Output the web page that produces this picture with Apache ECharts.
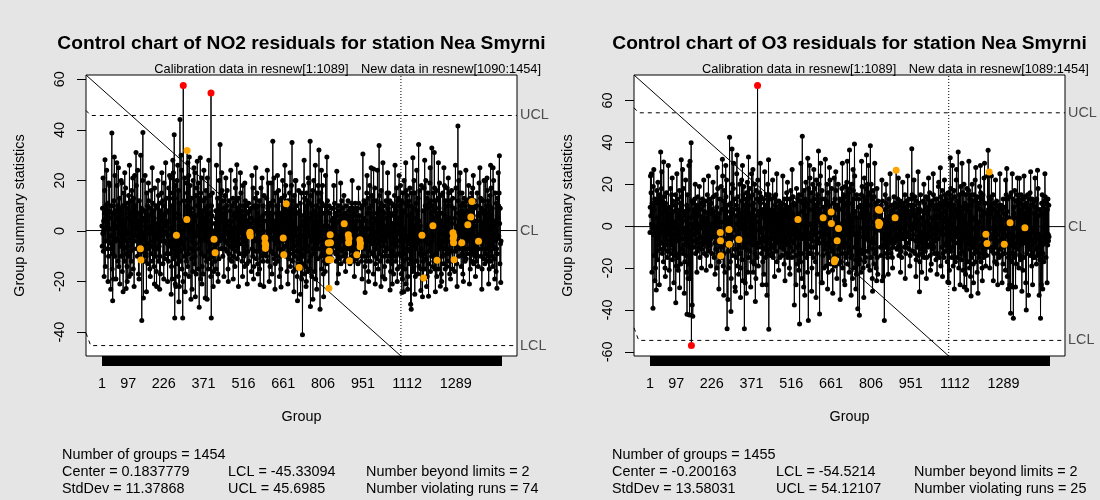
<!DOCTYPE html>
<html><head><meta charset="utf-8">
<script src="https://cdn.jsdelivr.net/npm/echarts@6/dist/echarts.min.js"></script>
<style>html,body{margin:0;padding:0;background:#e5e5e5}#c{width:1100px;height:500px}</style>
</head><body><div id="c"></div><script>
// ---------- data ----------
const xTickLabels = [1,97,226,371,516,661,806,951,1112,1289];
const yTicksNO2 = [-40,-20,0,20,40,60];
const yTicksO3 = [-60,-40,-20,0,20,40,60];

const no2Groups = 1454, no2Center = 0.1837779, no2Lcl = -45.33094, no2Ucl = 45.6985, no2StdDev = 11.37868, no2Beyond = 2, no2Violating = 74;
const o3Groups = 1455, o3Center = -0.200163, o3Lcl = -54.5214, o3Ucl = 54.12107, o3StdDev = 13.58031, o3Beyond = 2, o3Violating = 25;
const calibrationEnd = 1089.5;

const no2Bulk = [
2,-6,9,-1,13,-8,4,0,-11,7,16,-3,-14,5,10,-4,1,-17,8,3,-7,11,-1,6,-10,19,-4,1,-12,8,5,-2,14,-7,-5,10,0,-15,7,20,
-9,3,-19,12,-1,6,-10,15,2,-4,8,-13,1,5,-7,18,-3,10,-12,2,7,-14,4,-1,13,-8,-4,9,-6,2,20,-10,0,7,-16,4,10,-5,-2,15,
-7,4,-12,8,1,-4,17,-9,6,-1,11,-14,3,-6,9,-1,-10,14,5,-18,2,7,-4,12,-8,0,7,-12,16,-3,4,-7,10,-2,-15,13,1,-5,8,22,
-4,10,-2,6,-13,18,1,-7,3,-10,13,-4,7,-17,4,-1,12,-7,2,-11,15,-5,7,-2,9,-14,4,-8,20,0,-6,11,-3,5,-12,8,-1,14,-9,2,
7,-10,3,15,-5,-1,10,-13,4,-2,12,-7,1,6,-15,9,-4,2,-9,16,-1,7,-6,4,-12,11,0,-4,8,-14,5,-2,17,-7,1,-10,10,-1,-16,13,
3,-7,9,-3,5,-12,14,-2,-6,11,2,-10,7,-17,8,1,-4,15,-8,4,-2,12,-13,6,0,-7,19,-4,10,-11,2,7,-15,4,-1,13,-9,3,-5,10,
-2,8,-12,17,-6,4,-16,13,1,-9,21,-4,7,-14,10,-1,-19,15,4,-7,23,-11,2,-3,13,-15,7,-21,18,1,-7,12,-10,20,-2,-13,9,5,-18,16,
-4,11,-22,6,18,-8,3,-12,14,-5,24,-15,4,-2,10,-20,16,0,-7,12,-10,21,-3,7,-17,10,2,-12,19,-6,-1,15,-14,8,4,-9,22,-18,5,12,
-7,18,-2,9,-20,13,1,-11,15,-4,7,-16,20,-1,-8,11,-13,4,23,-10,3,-5,14,-17,6,-2,17,-12,10,0,-15,19,-7,2,-22,13,7,-4,10,-19,
15,-9,4,21,-6,-14,8,1,-17,12,-3,18,-10,5,-1,13,-20,9,-4,16,2,-12,7,-7,21,-2,10,-15,4,18,-8,1,-11,14,-5,7,-18,20,-2,10,
-13,6,15,-4,-10,12,0,-16,19,-7,3,-12,14,-2,8,-15,5,17,-9,1,-5,13,-17,7,-1,10,-11,20,-4,4,-14,9,-2,15,-7,4,-10,16,-3,7,
-10,12,-2,5,-13,9,1,-7,14,-4,7,-12,3,-1,10,-8,16,-5,2,-15,7,0,-9,12,-3,4,-11,8,-2,15,-6,4,-12,10,-4,1,-7,13,-2,6,
-10,11,-4,7,-14,3,17,-6,1,-8,12,-2,5,-11,9,-4,2,-15,13,-1,7,-9,4,10,-12,0,15,-5,8,-3,-12,6,-7,18,-2,4,-10,10,-1,-14,
7,-4,12,-9,2,-6,10,-1,-13,15,4,-8,7,-2,11,-12,1,8,-5,14,-10,3,-2,9,-16,5,12,-7,1,-10,17,-4,6,-14,10,-3,4,-8,13,0,
-7,9,-11,3,15,-4,7,-13,2,10,-8,5,-2,12,-15,4,8,-6,-1,17,-10,2,-4,11,-7,6,-12,10,0,-5,14,-9,4,-1,7,-15,12,-3,7,-10,
13,-2,5,-12,9,-7,19,-4,1,-10,11,-1,-14,7,4,-8,15,-3,6,-17,10,0,-6,12,-9,3,21,-11,4,-2,8,-13,2,15,-5,7,-10,10,-4,1,
-12,10,-3,16,-7,4,-1,12,-10,2,7,-15,9,-4,13,-2,4,-9,20,-7,1,10,-12,5,-2,14,-8,3,-6,18,-10,7,-4,11,-16,2,8,-5,12,-1,
-11,7,-3,15,-9,4,-14,10,-2,6,18,-7,2,-12,9,-4,12,-16,4,-1,14,-10,7,-6,20,-2,5,-15,10,-8,1,-18,12,-4,7,-11,16,-5,3,-13,
8,-4,11,-16,2,-9,15,-19,6,-2,10,-13,4,-7,18,-10,1,-17,13,-4,7,-14,10,-1,-20,15,3,-8,12,-6,-16,9,-2,19,-12,5,-15,11,-7,2,
-10,14,-4,7,-18,10,-2,16,-13,4,-7,20,-9,2,-16,8,-3,13,-19,6,-1,10,-13,15,-5,4,-11,18,-7,1,-16,12,-4,7,-14,9,-2,15,-10,3,
-15,11,-6,18,-9,2,-17,13,-4,7,-12,10,-1,-16,15,-7,4,-13,8,-3,-10,12,-5,2,-14,6,-8,10,-2,-12,7,-4,14,-10,1,-7,9,-11,4,-2,
-8,5,-3,9,-10,1,-6,11,-4,-1,7,-9,3,-12,6,-2,8,-7,-4,10,-10,1,-5,8,-11,4,-2,10,-7,2,-13,6,-3,12,-8,0,-4,9,-10,3,
-7,14,-2,5,-12,7,-4,1,-9,10,-5,3,-11,6,-1,-7,12,-4,2,-10,8,-3,4,-13,9,-6,-2,6,-8,11,-4,2,-10,6,-7,9,-2,-12,7,-4,
3,-9,11,-2,-6,8,-11,4,-3,9,-7,1,-13,6,-4,11,-2,-10,6,-1,14,-8,4,-5,9,-12,2,-7,10,-4,16,-10,5,-2,12,-7,1,-14,8,-3,
11,-6,4,-12,15,-2,7,-10,1,13,-16,6,-4,9,-8,18,-2,-12,7,3,-14,10,-5,14,-9,2,-1,12,-17,8,-4,5,-10,17,-3,9,-13,4,-7,12,
-1,7,-11,20,-5,3,-15,9,-1,6,-9,14,-4,2,-12,11,-7,16,-2,4,-10,8,-18,13,0,-6,10,-3,7,-14,17,-8,2,-4,12,-10,5,-1,15,-7,
4,-12,9,-2,15,-7,1,-10,12,-4,7,-16,6,-1,11,-13,3,19,-8,1,-5,10,-17,7,-3,14,-10,4,-2,10,-12,8,-6,17,-4,2,-15,12,-9,5,
-1,13,-7,3,-14,10,-4,18,-10,2,-17,12,-2,7,-19,15,-6,8,-12,4,20,-9,1,-15,11,-4,7,-21,16,-2,-11,14,-7,2,-18,10,-5,12,-3,6,
-13,17,-8,4,-20,10,-2,15,-12,7,-1,-16,12,-6,9,-15,20,-4,2,-10,15,-18,5,-7,11,-3,22,-12,8,-5,-17,13,-2,10,-14,4,-9,16,-4,2,
-15,12,-7,18,-10,3,-19,14,-2,8,-12,6,-1,17,-9,4,-15,10,-4,20,-11,2,-7,13,-18,9,-5,15,-2,7,-13,11,-8,2,19,-6,-16,12,-3,7,
-10,20,-4,10,-14,4,-2,15,-12,8,-7,17,-15,5,-3,12,-9,1,16,-18,10,-5,7,-11,13,-2,-15,9,-7,19,-4,3,-12,14,-6,4,-17,11,-1,7,
-10,15,-4,2,-13,9,-7,18,-2,6,-15,12,-3,10,-9,4,-14,17,-7,1,-12,8,-4,15,-9,5,-17,12,-1,7,-12,10,-5,16,-8,3,-15,13,-2,7,
-11,14,-4,9,-16,5,-1,12,-8,17,-6,2,-13,10,-4,7,-15,12,-2,20,-10,4,-7,15,-12,6,-2,10,-14,8,-5,15,-9,4,-17,11,-3,7,-10,13,
-7,3,-12,10,-2,16,-11,6,-4,12,-9,1,-14,8,-3,18,-7,4,-10,13,-1,-15,10,-5,7,-12,15,-4,2,-9,17,-7,5,-13,9,-2,12,-10,4,-6,
14,-8,2,-12,10,-4,15,-10,6,-2,-14,11,-7,19,-3,7,-12,4,-1,13,-10,9,-5,17,-15,3,-7,12,-2,7,-11,15,-4,8,-13,2,20,-9,5,-4,
10,-12,1,16,-7,4,-10,12,-3,7,-15,10,-5,14,-8,2,-12,17,-4,6,-10,9,-1,-14,12,-6,20,-2,4,-11,8,-7,15,-4,2,-16,11,-7,7,-9,
13,-3,5,-12,10,-2,15,-8,3,-13,9,-5,12,-4
];
const no2Excursions = [[5,21],[9,-18],[18,24],[23,-20],[29,18],[33,-23],[48,22],[52,-19],[61,25],[66,-21],[73,19],[78,-24],[84,23],[93,-20],
[101,26],[106,-17],[113,21],[118,-22],[131,24],[136,-19],[158,22],[163,-24],[170,19],[177,-18],[184,25],[192,-21],[205,20],[211,-23],[219,23],
[226,-19],[233,27],[240,-20],[247,22],[253,-25],[259,28],[270,-22],[277,26],[281,-28],[289,30],[304,-24],[314,27],[329,-23],[336,25],[341,-26],
[359,29],[365,-21],[372,24],[384,-27],[390,28],[406,-22],[418,26],[424,-20],[437,23],[445,-18],[452,21],[461,-20],[470,24],[479,-19],[486,20],
[498,-22],[505,23],[513,-18],[521,19],[530,-21],[547,22],[553,-19],[561,25],[569,-17],[584,21],[590,-22],[603,24],[610,-20],[617,19],[631,-23],
[640,22],[647,-18],[667,26],[678,-21],[686,23],[700,-24],[707,20],[724,-25],[737,28],[744,-22],[752,21],[778,26],[783,-23],[800,24],[808,-26],
[815,22],[845,18],[862,-17],[870,19],[888,-16],[912,20],[920,-18],[935,17],[948,-19],[966,22],[972,-20],[981,25],[996,-21],[1004,24],[1017,-22],
[1024,27],[1031,-19],[1041,23],[1058,-21],[1068,26],[1076,-20],[1083,22],[1100,-24],[1107,27],[1114,-23],[1133,29],[1140,-25],[1147,24],[1168,-26],
[1176,28],[1183,-22],[1196,25],[1215,-24],[1226,27],[1238,-20],[1246,25],[1253,-23],[1262,21],[1270,-19],[1288,26],[1294,-22],[1305,23],[1317,-20],
[1326,24],[1339,-21],[1353,22],[1361,-18],[1377,25],[1384,-23],[1392,20],[1409,-21],[1416,26],[1431,-19],[1444,23]];
const no2Peaks = [[12,28.2],[37,38.8],[40,-27.6],[46,29.3],[55,27],[89,-22.7],[125,31.1],[142,30],[146,-35.4],[150,39],[152,-26.5],[200,-22],
[264,38.1],[266,-34.4],[285,44.1],[295,-34.4],[297,57.6],[319,29.3],[325,-27],[348,27.6],[355,-30.2],[377,-26.5],[398,54.6],[399,-34.4],
[431,34.2],[492,26.2],[577,-21.3],[623,35.5],[653,-22.2],[693,35],[713,-27.6],[731,-41],[759,35.5],[760,-29.9],[769,-27],[791,32],[795,-31],[820,29.3],
[856,23.6],[857,-20.6],[951,30.5],[959,-24.3],[990,24.5],[1010,33.8],[1050,-23.3],[1093,-24.3],[1125,-29],[1127,-31],[1154,34.2],[1162,-23.5],
[1190,-25.8],[1202,32.8],[1211,31.1],[1233,-21.9],[1297,41.5],[1403,21],[1425,25],[1439,-22.6],[1448,29.8],[1453,-20.4]];
const no2Runs = [[141,-7],[143,-11.5],[272,-1.7],[310,4.6],[311,31.8],[409,-3.3],[413,-8.6],[539,-1.1],[540,-0.5],[541,-2],[594,-2.8],[595,-4.8],
[596,-6.8],[597,-5.5],[661,-2.8],[663,-9.4],[672,10.8],[719,-14.4],[825,-4.7],[826,-11.4],[827,-22.6],[829,-8],[832,-1.5],[833,-4.6],[834,-11.4],
[883,2.9],[898,-1.5],[899,-4.6],[900,-3],[902,-11.8],[929,-9.4],[940,-3.5],[941,-6.2],[942,-4.8],[1166,-1.7],[1172,-18.6],[1206,2.1],[1221,-11.6],
[1279,-0.7],[1280,-3],[1281,-4.6],[1282,-2],[1283,-11.4],[1311,-4.6],[1333,2.5],[1344,5.5],[1348,11.7],[1372,-4.1]];

const o3Bulk = [
-3,9,-13,5,16,-6,1,-18,11,-1,7,-10,19,-4,3,-14,8,13,-9,0,-20,11,-2,6,-12,17,-6,4,-16,9,-1,13,-9,4,-18,15,-4,6,-11,2,
10,-8,18,-5,1,-13,12,-2,7,-17,6,14,-11,-1,9,-20,4,11,-6,-3,16,-9,5,-15,8,1,-12,13,-4,9,-21,6,-1,11,-7,18,-13,3,-5,15,
-9,4,-16,12,-1,7,-11,20,-6,2,-14,10,-4,15,-10,1,-19,8,6,-7,13,-2,-15,11,-4,6,-13,17,-8,4,-1,11,-18,8,-5,14,-11,2,-6,9,
-13,5,18,-3,-9,13,-1,-17,7,-6,11,-14,3,-22,10,-4,15,-8,1,-12,8,-18,6,-2,13,-10,20,-6,-25,4,-15,8,-4,12,-8,1,-16,11,-1,6,
-10,8,-4,13,-7,2,-13,6,-1,10,-8,4,-12,7,-3,14,-6,1,-10,9,-2,5,-15,8,-5,11,-1,-8,6,-11,3,13,-6,1,-9,10,-4,4,-13,7,
-3,12,-8,2,-6,9,-14,4,-1,15,-10,6,-4,8,-12,1,10,-7,-2,13,-9,4,-6,11,-1,-13,6,8,-5,1,-10,14,-4,7,-15,5,-8,10,-1,3,
-11,15,-5,9,-20,6,-2,18,-13,4,-8,21,-17,6,-1,13,-23,10,-4,19,-10,2,-15,8,-7,24,-3,-19,12,5,-13,17,-6,-22,8,1,-18,14,-9,22,
-6,-27,10,-1,15,-12,4,-20,13,-8,23,-4,7,-17,11,-1,-25,16,-9,3,20,-14,6,-5,18,-21,8,-2,13,-11,-29,18,-6,5,-15,10,25,-8,1,-19,
14,-4,8,-23,17,-10,2,20,-13,6,-7,-20,12,-1,22,-16,4,9,-26,15,-6,-10,19,1,-14,10,-8,-27,13,-4,7,-18,16,-11,3,21,-8,-22,13,-2,
-15,10,-5,18,-12,6,-1,-20,14,-7,25,-17,4,-9,15,-3,-22,11,-6,8,-18,20,-1,-13,9,5,-25,17,-8,2,-15,13,-4,22,-10,-19,7,-2,12,-8,
16,-6,-21,11,-3,14,-13,6,-10,19,-1,-17,8,-7,13,-23,4,-1,18,-11,6,-15,10,-5,-28,15,-4,8,-13,20,-8,2,-18,11,-6,15,-2,-11,7,-14,
5,-9,13,-3,-13,8,-6,11,-1,-15,7,4,-10,14,-5,-1,10,-8,15,-12,2,-6,13,-17,6,-2,9,-8,4,-13,12,-4,-7,8,-15,10,1,-10,6,-4,
11,-14,3,-8,15,-5,8,-11,1,-18,13,-2,6,-9,10,-6,-13,5,16,-8,-1,12,-15,7,-4,9,-13,4,-20,13,-6,2,-10,17,-7,-1,10,-15,8,-4,
6,-12,14,-3,-8,11,-16,4,-6,10,-1,-14,8,-10,18,-5,2,-18,13,-8,6,-2,-21,15,-9,4,-13,12,-4,-17,20,-6,1,-25,15,-10,7,-4,11,-13,
-29,17,-6,9,-19,13,-1,-11,21,-8,5,-15,11,-3,-22,14,-9,6,18,-13,-4,8,-17,23,-6,1,-13,16,-10,4,-20,12,-7,20,-2,-15,8,-25,13,-4,
18,-10,6,-17,10,-1,22,-13,4,-8,-23,15,-6,11,-18,2,20,-8,-12,8,-3,24,-15,6,-27,13,-5,17,-10,1,-14,19,-7,9,-20,4,13,-11,-2,15,
-9,7,-19,12,-4,20,-13,3,-8,16,-22,10,-1,-15,13,-6,22,-10,5,-18,8,-3,18,-12,1,-21,14,-7,11,-16,6,23,-11,-1,13,-19,8,-5,17,-8,
4,-25,15,-6,10,-14,20,-2,-11,8,-18,13,-5,22,-9,1,-17,12,-7,18,-13,4,-20,9,-3,15,-10,6,-26,14,-6,19,-8,2,-15,11,-4,21,-13,7,
-18,10,-2,16,-10,5,-22,13,-6,18,-12,3,-15,8,-1,20,-14,11,-25,6,-8,17,-4,13,-20,2,24,-10,7,-16,12,-4,-23,15,-8,4,-13,18,-6,9,
-18,13,-3,21,-11,6,-16,10,-1,-22,15,-8,4,19,-13,8,-5,-20,14,-9,2,23,-17,7,-4,12,-15,18,-6,-26,10,-1,20,-12,6,-19,13,-7,16,-10,
4,-21,15,-4,10,-15,20,-8,-1,13,-25,8,-6,17,-11,2,-18,14,-8,22,-13,5,-3,11,-20,9,-6,18,-15,1,-23,12,-9,15,-5,7,-17,13,-2,8,
-10,6,-14,10,-2,8,-26,12,-6,3,-9,13,-4,1,-12,8,-7,15,-3,-10,6,11,-13,4,-6,9,-15,2,10,-8,-1,13,-11,5,-4,15,-8,7,-13,1,
10,-6,4,-15,12,-2,8,-10,6,14,-8,-1,11,-13,4,-5,9,17,-7,2,-11,6,-1,13,-10,8,-4,-14,10,-6,3,-9,12,-2,7,-12,5,-15,10,-4,
8,-13,2,11,-6,-1,9,-10,6,15,-8,4,-13,8,-3,-10,12,-5,6,-15,10,1,-8,13,-4,-11,7,3,-14,10,-6,5,-2,13,-9,15,-6,1,-12,8,
-4,10,-10,6,-1,14,-13,4,-7,9,-16,12,-2,6,-10,8,-5,13,-14,3,-8,11,-1,-17,8,-6,15,-11,4,-8,10,-3,-13,7,1,-10,12,-6,5,-15,
11,-4,8,-12,2,-8,14,-1,-15,9,-6,6,-10,13,-4,-12,8,1,-9,16,-5,-14,7,-2,10,-18,4,-8,12,-1,-11,10,-6,15,-10,3,-13,8,-4,13,
-7,5,-16,10,-3,13,-10,1,-13,8,-6,19,-8,4,-15,11,-2,6,-11,9,-19,14,-4,6,-10,17,-8,2,-13,10,-4,-15,12,-6,7,-9,15,-1,-12,4,
13,-8,3,-17,11,-5,16,-10,1,-14,9,-21,15,-4,8,-12,18,-6,-2,13,-15,6,21,-10,1,-19,10,-7,17,-13,4,-1,14,-17,8,-5,22,-11,6,-3,
-15,12,-8,17,-1,-20,10,-6,15,-10,4,-13,19,-8,7,-16,2,13,-12,-4,16,-21,9,-6,20,-10,5,-14,11,-3,-23,15,-8,8,-13,18,-5,1,-17,10,
-9,17,-4,7,-20,13,-11,6,-24,15,-7,10,-15,3,20,-10,-1,12,-18,8,-6,15,-13,4,-8,22,-17,6,-2,13,-12,9,-22,14,-5,17,-10,2,-15,11,
-6,19,-13,8,-3,16,-17,5,-9,13,-20,10,-1,15,-11,7,-15,23,-8,4,-13,11,-5,-19,17,-8,6,-14,10,-2,24,-10,-17,8,-4,14,-12,6,-20,9,
-4,13,-10,6,-15,10,-1,-12,8,-6,15,-9,4,-13,11,-3,-17,8,-6,14,-10,2,-8,12,-18,7,-4,13,-13,5,-1,10,-15,9,-7,15,-11,4,-2,10,
-14,8,-6,17,-10,3,-18,13,-8,6,-2,19,-13,9,-4,-21,11,-8,15,-1,-12,7,-24,13,-5,10,-15,4,-10,14,-6,-28,12,-3,8,-13,16,-9,2,-17,
10,-7,-29,13,-4,9,-15,6,-10,17,-1,-13,8,-5,12,-18,4,-8,15,-2,-11,10,-6,13,-20,7,-3,-14,11,-9,5,-16,15,-6,8,-12,2,-8,13,-21,
10,-4,-15,12,-8,6,-18,14,-2,-27,9,-6,11,-13,4,-10,15,-5,8,-17,13,-1,-11,8,-7,16,-14,4,-9,10,-3,-19,13,-6,7,-13,10,-1,-15,12,
-8,6,-15,14,-4,9,-11,3,-18,13,-6,8,-2,-14,18,-10,5,-13,10,-4,-16,8,-7,13,-12,6,-28,11,-5,15,-9,2,-13,10,-1,-17,12,-8,4,-10,
14,-6,8,-15,6,-3,11,-13,8,-9,13,-4,-7,10,-5
];
const o3Excursions = [[3,24],[8,-22],[15,27],[19,-26],[30,21],[35,-28],[44,26],[57,-24],[68,29],[74,-30],[82,23],[88,-27],[99,25],[104,-21],
[120,27],[126,-32],[131,22],[140,-25],[147,31],[166,20],[172,-22],[181,19],[189,-20],[197,22],[206,-21],[214,24],[222,-19],[231,21],[238,-23],
[246,28],[252,-30],[265,32],[270,-33],[277,29],[285,-35],[306,30],[312,-31],[318,34],[331,-34],[338,29],[352,-32],[360,33],[368,-29],[376,27],
[385,-36],[403,30],[410,-28],[419,26],[427,-33],[448,22],[455,-24],[463,25],[470,-21],[485,24],[493,-26],[502,21],[511,-23],[519,27],[533,-28],
[551,30],[565,-33],[583,29],[590,-31],[598,27],[606,-34],[623,30],[629,-27],[640,32],[648,-30],[655,28],[667,-32],[678,26],[694,-35],[702,30],
[711,-28],[720,31],[734,-33],[741,27],[751,-30],[772,31],[780,-34],[797,29],[812,-31],[820,30],[827,-26],[846,22],[852,-24],[861,20],[869,-23],
[876,25],[885,-20],[906,23],[914,-22],[922,21],[931,-25],[940,24],[948,-19],[963,22],[970,-24],[978,26],[991,-22],[999,20],[1008,-25],[1016,23],
[1023,-21],[1033,25],[1047,-23],[1053,21],[1067,-24],[1074,22],[1090,-27],[1103,29],[1110,-30],[1118,27],[1131,-28],[1138,30],[1146,-29],
[1163,31],[1180,-27],[1188,28],[1196,-32],[1205,29],[1212,-26],[1220,30],[1245,24],[1252,-26],[1260,22],[1268,-28],[1276,25],[1284,-27],
[1297,22],[1306,-30],[1321,25],[1333,-29],[1340,23],[1356,-31],[1364,24],[1380,-33],[1388,26],[1395,-28],[1404,23],[1432,-30],[1440,25],[1448,-27]];
const o3Peaks = [[6,25],[12,-39.2],[24,-30.5],[40,35.4],[51,30.6],[95,-36.5],[109,-29.4],[115,31.7],[136,-42],[143,29],[145,-42.4],
[151,39.8],[152,-57],[155,-37.6],[157,-43],[282,-49],[291,42.5],[296,-40.7],[300,36.8],[345,-49],[393,67.2],[433,31.7],[434,-49.2],
[527,-37.6],[546,-46.7],[556,42.9],[576,32.4],[578,-45],[615,35.9],[619,-41.9],[728,36.4],[746,39.2],[758,-39.4],[764,-42.5],[790,34],
[804,38.4],[855,-45],[955,37],[983,-31.3],[1059,27.9],[1086,-26.7],[1095,32.7],[1124,35.4],[1155,-30.5],[1171,-33.3],[1233,36.2],
[1301,27.5],[1315,-41.6],[1325,-44],[1347,22.9],[1372,-40],[1413,26.7],[1419,-33],[1424,-44]];
const o3Runs = [[257,-3],[258,-7],[259,-14.1],[289,-1.6],[290,-8.6],[325,-6.3],[540,3.2],[632,4],[661,6.8],[662,1.3],[673,-17],[674,-16],
[683,-7],[688,-1.1],[833,8],[834,1.9],[835,0.3],[837,7.6],[838,1.3],[894,4],[898,26.7],[1225,-3.8],[1229,-8.3],[1237,25.9],[1292,-8.6],
[1313,1.6],[1367,-0.8]];

// ---------- build ----------
const FONT = '"Liberation Sans", Arial, Helvetica, sans-serif';
const GRID_TOP = 75, GRID_W = 431, GRID_H = 281;

function buildStats(bulk, ...overrides) {
  const s = bulk.slice();
  overrides.forEach(list => list.forEach(([g, v]) => { s[g - 1] = v; }));
  return s;
}

const specs = [
  { left: 86, title: 'Control chart of NO2 residuals for station Nea Smyrni',
    stats: buildStats(no2Bulk, no2Excursions, no2Peaks, no2Runs), runs: no2Runs, n: no2Groups,
    center: no2Center, lcl: no2Lcl, ucl: no2Ucl, sd: no2StdDev, beyond: no2Beyond, viol: no2Violating,
    calib: 'Calibration data in resnew[1:1089]', newd: 'New data in resnew[1090:1454]', newStart: 1090,
    yTicks: yTicksNO2, slantTop: 2, slantBot: 5, textX: [62, 228, 366] },
  { left: 634, title: 'Control chart of O3 residuals for station Nea Smyrni',
    stats: buildStats(o3Bulk, o3Excursions, o3Peaks, o3Runs), runs: o3Runs, n: o3Groups,
    center: o3Center, lcl: o3Lcl, ucl: o3Ucl, sd: o3StdDev, beyond: o3Beyond, viol: o3Violating,
    calib: 'Calibration data in resnew[1:1089]', newd: 'New data in resnew[1089:1454]', newStart: 1089,
    yTicks: yTicksO3, slantTop: 2.4, slantBot: 6, textX: [612, 776, 914] }
];

const grids = [], xAxes = [], yAxes = [], series = [];
specs.forEach((sp, k) => {
  const n = sp.stats.length;
  let lo = Math.min(sp.lcl, ...sp.stats), hi = Math.max(sp.ucl, ...sp.stats);
  const r = hi - lo; lo -= 0.04 * r; hi += 0.04 * r;
  const xmin = 1 - 0.04 * (n - 1), xmax = n + 0.04 * (n - 1);
  grids.push({ left: sp.left, top: GRID_TOP, width: GRID_W, height: GRID_H, show: true,
    backgroundColor: '#ffffff', borderColor: '#000', borderWidth: 1 });
  const allIdx = sp.stats.map((v, i) => i + 1);
  xAxes.push({ type: 'value', gridIndex: k, min: xmin, max: xmax,
    axisLine: { show: false, onZero: false }, splitLine: { show: false },
    axisTick: { show: true, customValues: allIdx, length: 10, lineStyle: { color: '#000', width: 1 } },
    axisLabel: { customValues: xTickLabels, margin: 21, color: '#000', fontSize: 14.4, fontFamily: FONT,
      formatter: v => String(v) } });
  yAxes.push({ type: 'value', gridIndex: k, min: lo, max: hi,
    axisLine: { show: false, onZero: false }, splitLine: { show: false },
    axisTick: { show: true, customValues: sp.yTicks, length: 9, lineStyle: { color: '#000', width: 1 } },
    axisLabel: { customValues: sp.yTicks, rotate: 90, margin: 19, color: '#000', fontSize: 14.4, fontFamily: FONT,
      formatter: v => String(v) } });
  const ax = { xAxisIndex: k, yAxisIndex: k, animation: false, silent: true };
  const pts = sp.stats.map((v, i) => [i + 1, v]);
  series.push(Object.assign({ type: 'line', data: [[xmin, sp.center], [xmax, sp.center]], symbol: 'none',
    lineStyle: { color: '#000', width: 1 }, z: 1 }, ax));
  series.push(Object.assign({ type: 'line', data: [[xmin, sp.ucl + sp.slantTop], [-40, sp.ucl], [xmax, sp.ucl]], symbol: 'none',
    lineStyle: { color: '#000', width: 1, type: [4, 4] }, z: 1 }, ax));
  series.push(Object.assign({ type: 'line', data: [[xmin, sp.lcl + sp.slantBot], [-40, sp.lcl], [xmax, sp.lcl]], symbol: 'none',
    lineStyle: { color: '#000', width: 1, type: [4, 4] }, z: 1 }, ax));
  series.push(Object.assign({ type: 'line', data: [[xmin, hi], [calibrationEnd, lo]], symbol: 'none',
    lineStyle: { color: '#000', width: 1 }, z: 1 }, ax));
  series.push(Object.assign({ type: 'line', data: [[calibrationEnd, lo], [calibrationEnd, hi]], symbol: 'none',
    lineStyle: { color: '#000', width: 1, type: [1, 2] }, z: 1 }, ax));
  series.push(Object.assign({ type: 'line', data: pts, symbol: 'none', lineStyle: { color: '#000', width: 1 }, z: 2 }, ax));
  series.push(Object.assign({ type: 'scatter', data: pts, symbol: 'circle', symbolSize: 5,
    itemStyle: { color: '#000', opacity: 1 }, z: 3 }, ax));
  const runSet = new Set(sp.runs.map(d => d[0]));
  series.push(Object.assign({ type: 'scatter', data: pts.filter(p => runSet.has(p[0])), symbolSize: 7,
    itemStyle: { color: '#FFA500', opacity: 1 }, z: 4 }, ax));
  series.push(Object.assign({ type: 'scatter', data: pts.filter(p => p[1] > sp.ucl || p[1] < sp.lcl), symbolSize: 7,
    itemStyle: { color: '#FF0000', opacity: 1 }, z: 5 }, ax));
});

const chart = echarts.init(document.getElementById('c'), null, { renderer: 'canvas' });
chart.setOption({ animation: false, backgroundColor: '#e5e5e5', grid: grids, xAxis: xAxes, yAxis: yAxes, series: series });

function txt(text, x, y, o) {
  o = o || {};
  return { type: 'text', x: x, y: y, rotation: o.rot || 0, silent: true, z: 100,
    style: { text: text, fill: o.color || '#000', font: (o.weight || 'normal') + ' ' + (o.size || 14.4) + 'px ' + FONT,
      align: o.align || 'left', verticalAlign: 'middle', textAlign: o.align || 'left', textVerticalAlign: 'middle' } };
}
const graphics = [];
specs.forEach((sp, k) => {
  const P = (x, y) => chart.convertToPixel({ gridIndex: k }, [x, y]);
  const cx = sp.left + GRID_W / 2, cy = GRID_TOP + GRID_H / 2;
  graphics.push(txt(sp.title, cx, 44, { size: 19.2, weight: 'bold', align: 'center' }));
  graphics.push(txt(sp.calib, P((1 + sp.newStart - 1) / 2, 0)[0], 69, { size: 12.8, align: 'center' }));
  graphics.push(txt(sp.newd, P((sp.newStart + sp.n) / 2, 0)[0], 69, { size: 12.8, align: 'center' }));
  const rx = sp.left + GRID_W + 3;
  graphics.push(txt('UCL', rx, P(0, sp.ucl)[1], { color: '#4d4d4d' }));
  graphics.push(txt('CL', rx, P(0, sp.center)[1], { color: '#4d4d4d' }));
  graphics.push(txt('LCL', rx, P(0, sp.lcl)[1], { color: '#4d4d4d' }));
  graphics.push(txt('Group', cx, 417, { align: 'center' }));
  graphics.push(txt('Group summary statistics', sp.left - 66, cy, { align: 'center', rot: Math.PI / 2 }));
  const [c1, c2, c3] = sp.textX;
  graphics.push(txt('Number of groups = ' + sp.n, c1, 455));
  graphics.push(txt('Center = ' + sp.center, c1, 472));
  graphics.push(txt('StdDev = ' + sp.sd, c1, 489));
  graphics.push(txt('LCL = ' + sp.lcl, c2, 472));
  graphics.push(txt('UCL = ' + sp.ucl, c2, 489));
  graphics.push(txt('Number beyond limits = ' + sp.beyond, c3, 472));
  graphics.push(txt('Number violating runs = ' + sp.viol, c3, 489));
});
chart.setOption({ graphic: graphics });
</script></body></html>
